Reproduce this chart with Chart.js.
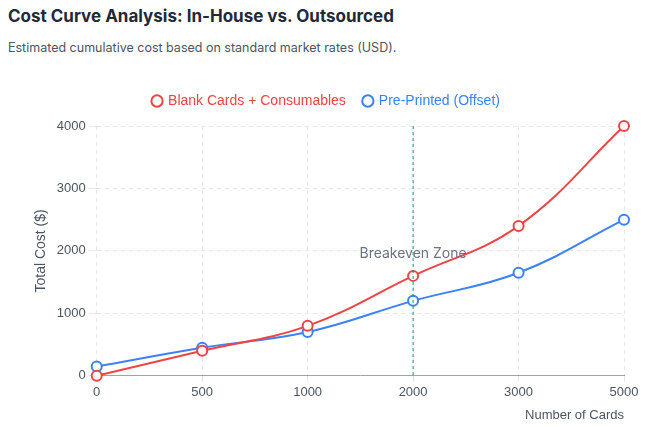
<!DOCTYPE html>
<html>
<head>
<meta charset="utf-8">
<script src="https://cdn.jsdelivr.net/npm/chart.js@4.4.0/dist/chart.umd.min.js"></script>
<style>
  body { margin: 0; background: #fff; font-family: "Inter", "Noto Sans", sans-serif; }
  h1 { position: absolute; left: 8px; top: 6px; margin: 0; font-size: 17px; font-weight: 700; color: #1f2937; }
  p { position: absolute; left: 8px; top: 40px; margin: 0; font-size: 12.5px; color: #4b5563; }
  #wrap { position: absolute; left: 0; top: 76px; width: 650px; height: 351px; }
</style>
</head>
<body>
<h1>Cost Curve Analysis: In-House vs. Outsourced</h1>
<p>Estimated cumulative cost based on standard market rates (USD).</p>
<div id="wrap"><canvas id="costChart"></canvas></div>
<script>
var cardCounts = ["0", "500", "1000", "2000", "3000", "5000"];
var blankCosts = [0, 400, 800, 1600, 2400, 4000];
var offsetCosts = [150, 450, 700, 1200, 1650, 2500];
var breakevenIndex = 3;

// Linie und Beschriftung fuer den Breakeven-Bereich
var breakevenPlugin = {
  id: "breakeven",
  beforeInit: function (chart) {
    var origFit = chart.legend.fit;
    chart.legend.fit = function () {
      origFit.bind(chart.legend)();
      this.height += 8;
    };
  },
  afterDatasetsDraw: function (chart) {
    var ctx = chart.ctx;
    var x = chart.scales.x.getPixelForValue(breakevenIndex);
    var area = chart.chartArea;
    ctx.save();
    ctx.strokeStyle = "#0f9d76";
    ctx.lineWidth = 1;
    ctx.setLineDash([3, 3]);
    ctx.beginPath();
    ctx.moveTo(x, area.top);
    ctx.lineTo(x, area.bottom);
    ctx.stroke();
    ctx.setLineDash([]);
    ctx.fillStyle = "#6b7280";
    ctx.font = "14px Inter, sans-serif";
    ctx.textAlign = "center";
    ctx.textBaseline = "middle";
    ctx.fillText("Breakeven Zone", x, chart.scales.y.getPixelForValue(1950));
    ctx.restore();
  }
};

var ctx = document.getElementById("costChart").getContext("2d");
new Chart(ctx, {
  type: "line",
  data: {
    labels: cardCounts,
    datasets: [
      {
        label: "Blank Cards + Consumables",
        data: blankCosts,
        borderColor: "#ef4444",
        backgroundColor: "#ffffff",
        borderWidth: 2,
        pointRadius: 5,
        pointBorderWidth: 2,
        tension: 0.4,
        clip: false
      },
      {
        label: "Pre-Printed (Offset)",
        data: offsetCosts,
        borderColor: "#3b82f6",
        backgroundColor: "#ffffff",
        borderWidth: 2,
        pointRadius: 5,
        pointBorderWidth: 2,
        tension: 0.4,
        clip: false
      }
    ]
  },
  options: {
    responsive: true,
    maintainAspectRatio: false,
    animation: false,
    layout: { padding: { left: 29, right: 26, bottom: 0 } },
    plugins: {
      legend: {
        labels: {
          usePointStyle: true,
          boxWidth: 8,
          boxHeight: 8,
          padding: 18,
          font: { size: 14 },
          generateLabels: function (chart) {
            return chart.data.datasets.map(function (ds, i) {
              return {
                text: ds.label, fillStyle: "#fff", strokeStyle: ds.borderColor,
                lineWidth: 2, pointStyle: "circle", fontColor: ds.borderColor, datasetIndex: i
              };
            });
          }
        }
      },
      tooltip: { enabled: false }
    },
    scales: {
      x: {
        grid: { color: "#e5e7eb", tickLength: 6 },
        border: { color: "#9ca3af", dash: [4, 4] },
        ticks: { color: "#4b5563", font: { size: 13 } },
        title: { display: true, text: "Number of Cards", align: "end", color: "#4b5563", font: { size: 13 } }
      },
      y: {
        min: 0, max: 4000,
        grid: { color: "#e5e7eb" },
        border: { display: false, dash: [4, 4] },
        ticks: { stepSize: 1000, color: "#4b5563", font: { size: 13 }, callback: function (v) { return String(v); } },
        title: { display: true, text: "Total Cost ($)", color: "#4b5563", font: { size: 14 } }
      }
    }
  },
  plugins: [breakevenPlugin]
});
</script>
</body>
</html>
